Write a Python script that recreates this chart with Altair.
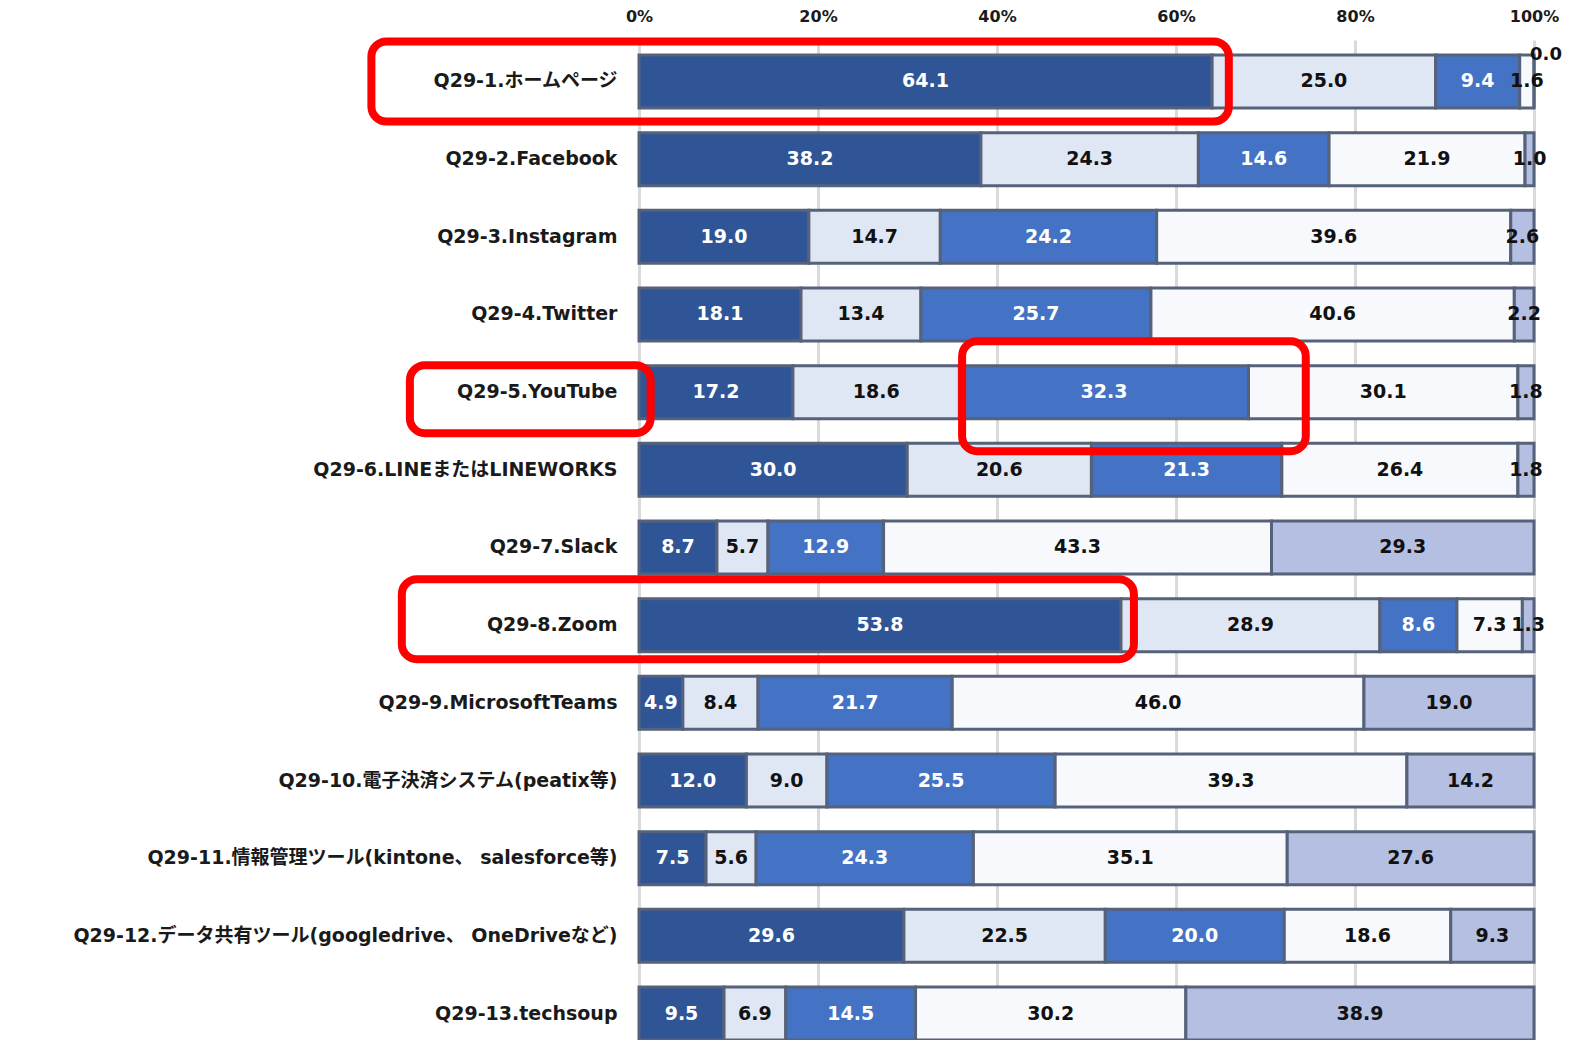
import altair as alt
import pandas as pd

categories = [
    "Q29-1.ホームページ",
    "Q29-2.Facebook",
    "Q29-3.Instagram",
    "Q29-4.Twitter",
    "Q29-5.YouTube",
    "Q29-6.LINEまたはLINEWORKS",
    "Q29-7.Slack",
    "Q29-8.Zoom",
    "Q29-9.MicrosoftTeams",
    "Q29-10.電子決済システム(peatix等)",
    "Q29-11.情報管理ツール(kintone、 salesforce等)",
    "Q29-12.データ共有ツール(googledrive、 OneDriveなど)",
    "Q29-13.techsoup",
]

series_names = ["A", "B", "C", "D", "E"]
s1 = [64.1, 38.2, 19.0, 18.1, 17.2, 30.0, 8.7, 53.8, 4.9, 12.0, 7.5, 29.6, 9.5]
s2 = [25.0, 24.3, 14.7, 13.4, 18.6, 20.6, 5.7, 28.9, 8.4, 9.0, 5.6, 22.5, 6.9]
s3 = [9.4, 14.6, 24.2, 25.7, 32.3, 21.3, 12.9, 8.6, 21.7, 25.5, 24.3, 20.0, 14.5]
s4 = [1.6, 21.9, 39.6, 40.6, 30.1, 26.4, 43.3, 7.3, 46.0, 39.3, 35.1, 18.6, 30.2]
s5 = [0.0, 1.0, 2.6, 2.2, 1.8, 1.8, 29.3, 1.3, 19.0, 14.2, 27.6, 9.3, 38.9]
series_values = [s1, s2, s3, s4, s5]

fill_colors = ["#2f5597", "#e0e7f4", "#4472c4", "#f7f9fd", "#b4bfe2"]

# highlight boxes (red rounded rectangles), x extents in share units
box_cats = [categories[0], categories[4], categories[4], categories[7]]
box_x0 = [-0.299, -0.256, 0.361, -0.265]
box_x1 = [0.659, 0.013, 0.745, 0.553]

rows = []
for k, (name, vals) in enumerate(zip(series_names, series_values)):
    for cat, v in zip(categories, vals):
        rows.append({"category": cat, "series": name, "order": k + 1, "value": v})
df = pd.DataFrame(rows)

xscale = alt.Scale(domain=[0, 1], nice=False, zero=False)
yscale = alt.Scale(paddingInner=0.318, paddingOuter=0.0965, align=1)

label_font = "DejaVu Sans, Noto Sans CJK JP"

base = alt.Chart(df).transform_stack(
    stack="value",
    groupby=["category"],
    as_=["x0", "x1"],
    offset="normalize",
    sort=[alt.SortField("order", order="ascending")],
).transform_calculate(mid="(datum.x0 + datum.x1) / 2")

Y = alt.Y(
    "category:N",
    sort=categories,
    scale=yscale,
    title="",
    axis=alt.Axis(
        labelFont=label_font,
        labelFontWeight="bold",
        labelFontSize=19,
        labelColor="#1a1a1a",
        labelPadding=22,
        labelLimit=800,
        ticks=False,
        domain=False,
        grid=False,
    ),
)

bars = base.mark_bar(stroke="#56627a", strokeWidth=3).encode(
    x=alt.X(
        "x0:Q",
        scale=xscale,
        title="",
        axis=alt.Axis(
            orient="top",
            format="%",
            values=[0, 0.2, 0.4, 0.6, 0.8, 1.0],
            labelFont="DejaVu Sans",
            labelFontWeight="bold",
            labelFontSize=16,
            labelColor="#1a1a1a",
            labelPadding=16,
            labelFlush=False,
            ticks=False,
            domain=False,
            grid=True,
            gridColor="#dadada",
            gridWidth=3,
        ),
    ),
    x2="x1:Q",
    y=Y,
    color=alt.Color(
        "series:N",
        scale=alt.Scale(domain=series_names, range=fill_colors),
        legend=None,
    ),
)

Ysimple = alt.Y("category:N", sort=categories, scale=yscale, title="")

text_color = alt.condition(
    "datum.order == 1 || datum.order == 3", alt.value("#ffffff"), alt.value("#111111")
)

labels = base.transform_filter("datum.value > 0").mark_text(
    font="DejaVu Sans", fontWeight="bold", fontSize=19
).encode(
    x=alt.X("mid:Q", scale=xscale, title=""),
    y=Ysimple,
    text=alt.Text("value:Q", format=".1f"),
    color=text_color,
)

zero_labels = base.transform_filter("datum.value == 0").mark_text(
    font="DejaVu Sans", fontWeight="bold", fontSize=18, dx=12, dy=-26
).encode(
    x=alt.X("mid:Q", scale=xscale, title=""),
    y=Ysimple,
    text=alt.Text("value:Q", format=".1f"),
    color=alt.value("#111111"),
)

box_df = pd.DataFrame({"category": box_cats, "bx0": box_x0, "bx1": box_x1, "idx": [0, 1, 2, 3]})


def box_layer(i, height, offset):
    return alt.Chart(box_df).transform_filter(f"datum.idx == {i}").mark_bar(
        size=height,
        yOffset=offset,
        fillOpacity=0,
        stroke="#ff0000",
        strokeWidth=8,
        cornerRadius=15,
    ).encode(
        x=alt.X("bx0:Q", scale=xscale, title=""),
        x2="bx1:Q",
        y=Ysimple,
    )


boxes = [box_layer(0, 80, 0), box_layer(1, 68, 7), box_layer(2, 110, 4), box_layer(3, 80, -6)]

chart = alt.layer(bars, labels, zero_labels, *boxes).properties(
    width=895,
    height=1000,
    autosize=alt.AutoSizeParams(type="none"),
    padding={"left": 631, "top": 32, "right": 33, "bottom": 0},
    background="#ffffff",
).configure_view(strokeWidth=0)

chart.save("out.html", embed_options={"renderer": "svg", "actions": False})
